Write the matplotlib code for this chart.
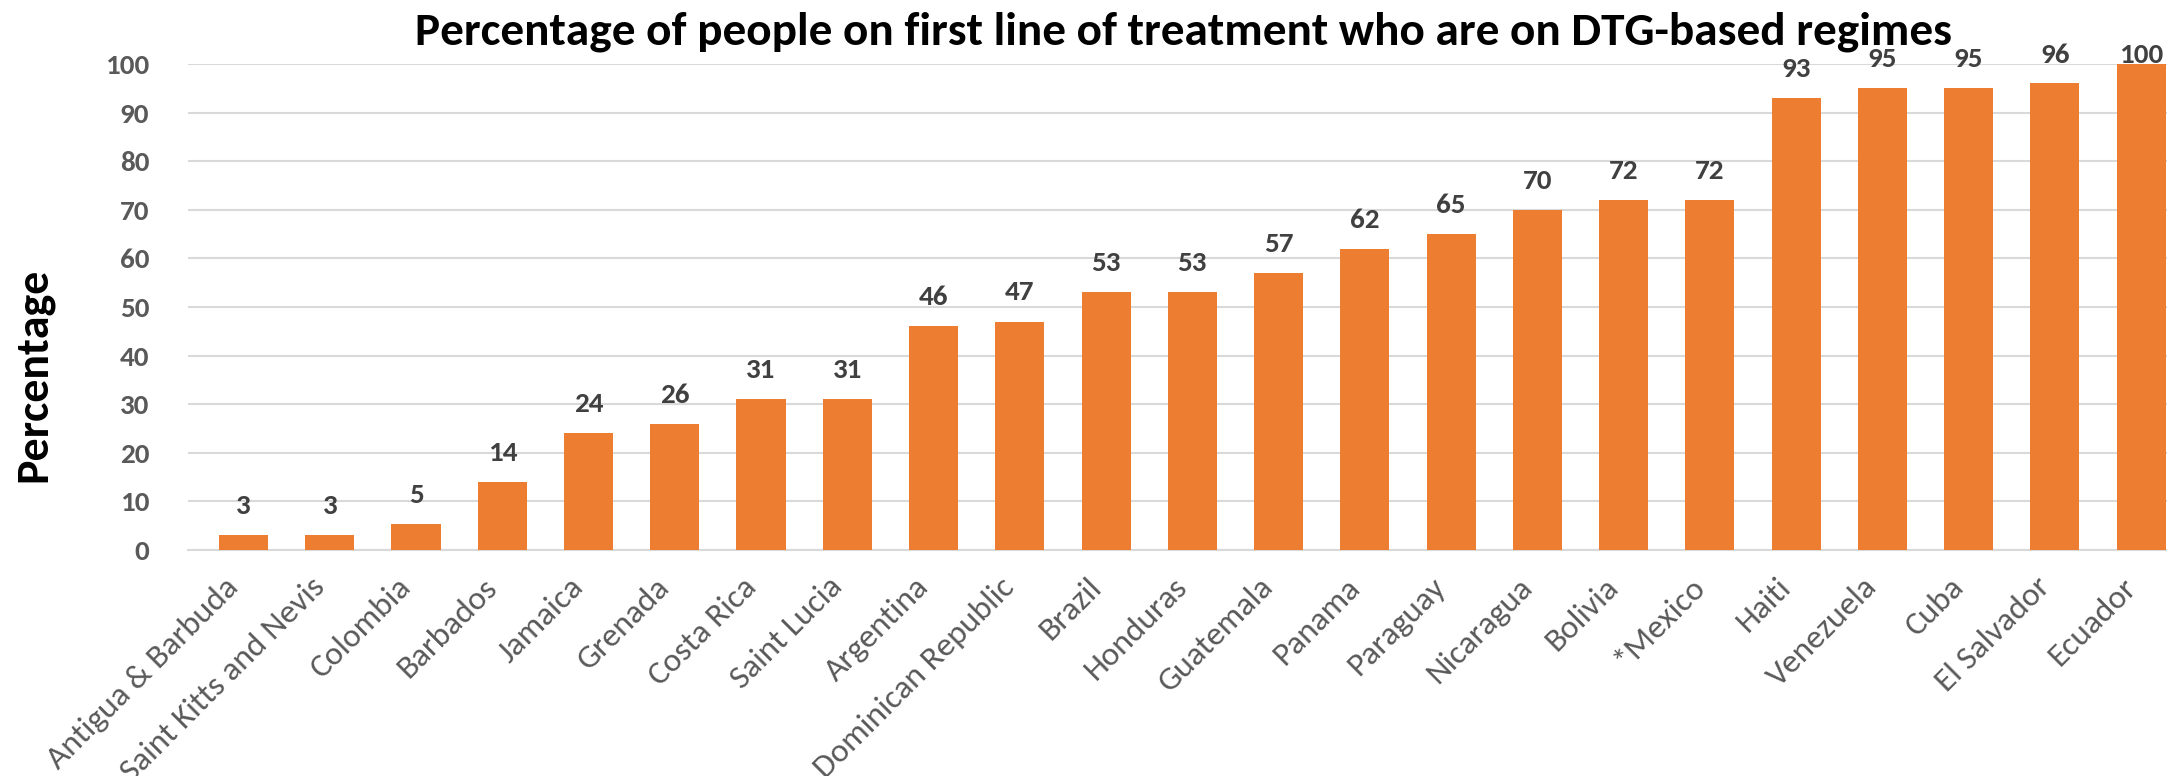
import matplotlib
matplotlib.use('Agg')
import matplotlib.pyplot as plt
from matplotlib import font_manager

# dati
paesi = ['Antigua & Barbuda', 'Saint Kitts and Nevis', 'Colombia', 'Barbados',
         'Jamaica', 'Grenada', 'Costa Rica', 'Saint Lucia', 'Argentina',
         'Dominican Republic', 'Brazil', 'Honduras', 'Guatemala', 'Panama',
         'Paraguay', 'Nicaragua', 'Bolivia', '*Mexico', 'Haiti', 'Venezuela',
         'Cuba', 'El Salvador', 'Ecuador']
valori = [3, 3, 5.4, 14, 24, 26, 31, 31, 46, 47, 53, 53, 57, 62, 65, 70, 72, 72,
          93, 95, 95, 96, 100]
tick_y = [0, 10, 20, 30, 40, 50, 60, 70, 80, 90, 100]

titolo = 'Percentage of people on first line of treatment who are on DTG-based regimes'

# font simile a Calibri se presente
nomi = {f.name for f in font_manager.fontManager.ttflist}
font = 'Carlito' if 'Carlito' in nomi else 'Lato'
plt.rcParams['font.family'] = [font, 'DejaVu Sans']

arancione = '#ED7D31'
grigio_griglia = '#D9D9D9'

fig = plt.figure(figsize=(21.67, 7.76), dpi=100)
ax = fig.add_axes([0.0868, 0.2912, 0.9132, 0.6263])

x = list(range(len(paesi)))
ax.bar(x, valori, width=0.57, color=arancione, zorder=3)

# etichette dei valori sopra le barre (limitate in alto come in Excel)
for xi, v in zip(x, valori):
    y_lab = min(v + 6, 101.9)
    ax.text(xi, y_lab, str(int(round(v))), ha='center', va='center',
            fontsize=21, fontweight='bold', color='#404040', zorder=4)

ax.set_xlim(-0.643, len(paesi) - 1 + 0.30)
ax.set_ylim(0, 100)
ax.set_yticks(tick_y)
ax.set_yticklabels([str(t) for t in tick_y], fontsize=21, fontweight='bold',
                   color='#595959')
ax.set_xticks(x)
ax.set_xticklabels(paesi, rotation=45, ha='right', va='top', fontsize=24,
                   color='#595959')
ax.tick_params(axis='y', length=0, pad=28)
ax.tick_params(axis='x', length=0, pad=16)

ax.grid(axis='y', color=grigio_griglia, linewidth=1.5, zorder=0)
for lato in ['top', 'right', 'left']:
    ax.spines[lato].set_visible(False)
ax.spines['bottom'].set_color(grigio_griglia)
ax.spines['bottom'].set_linewidth(1.5)

fig.text(0.546, 1 - 32 / 776, titolo, ha='center', va='center',
         fontsize=34, fontweight='bold', color='black')
fig.text(33 / 2167, 1 - 375 / 776, 'Percentage', ha='center', va='center',
         rotation=90, fontsize=33, fontweight='bold', color='black')

fig.savefig('out.png', dpi=100)
